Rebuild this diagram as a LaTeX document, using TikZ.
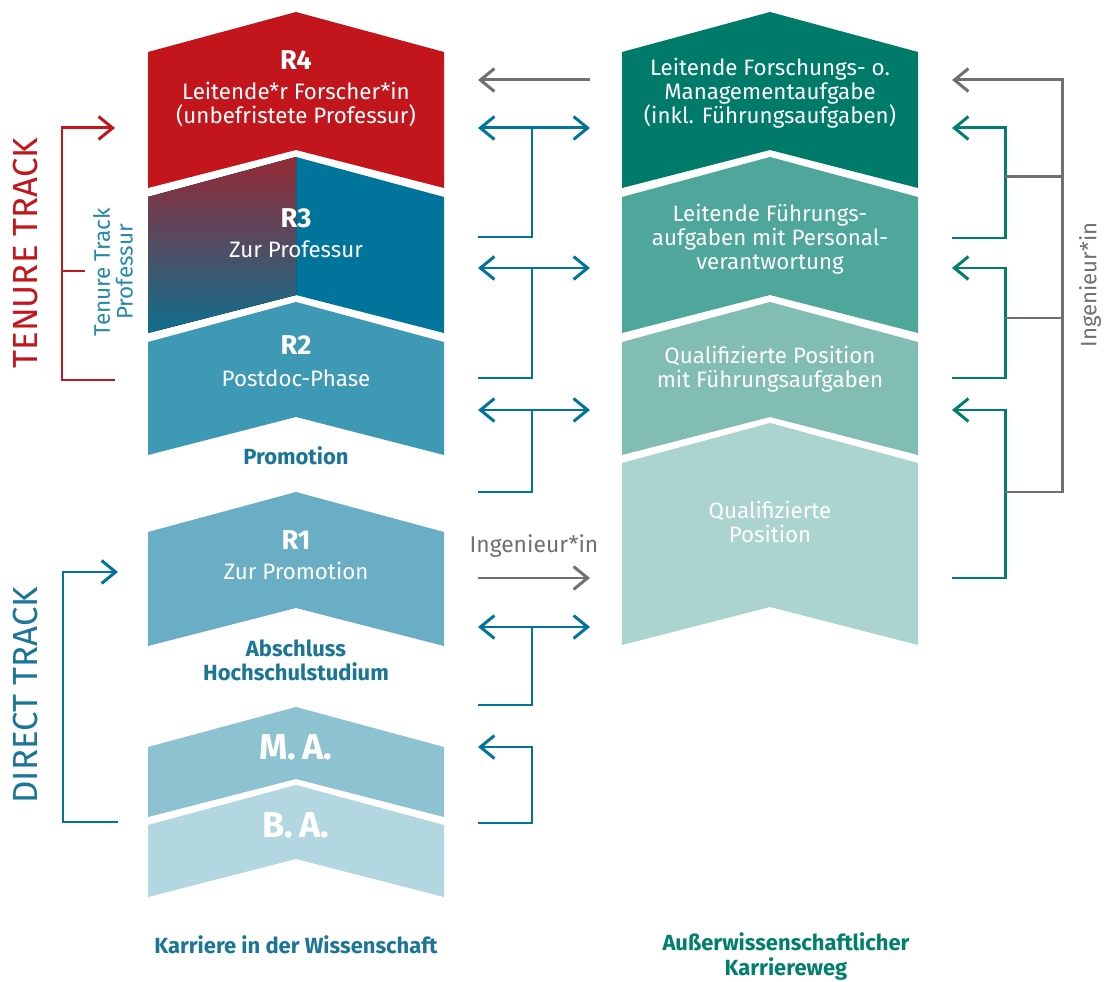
\documentclass[tikz,border=0pt]{standalone}
\usepackage{fontspec}
\setmainfont{Fira Sans}
\usetikzlibrary{arrows.meta,positioning,calc}

\definecolor{rfour}{HTML}{C3161C}
\definecolor{rthree}{HTML}{00749A}
\definecolor{rthreetop}{HTML}{952A36}
\definecolor{rthreebot}{HTML}{0E6F8E}
\definecolor{rtwo}{HTML}{3E9AB4}
\definecolor{rone}{HTML}{69AEC4}
\definecolor{master}{HTML}{8DC2D1}
\definecolor{bachelor}{HTML}{B3D7E1}
\definecolor{gone}{HTML}{007B69}
\definecolor{gtwo}{HTML}{4FA69B}
\definecolor{gthree}{HTML}{82BDB3}
\definecolor{gfour}{HTML}{ACD4CE}
\definecolor{sciteal}{HTML}{1A7596}
\definecolor{ngreen}{HTML}{007F6C}
\definecolor{conngray}{HTML}{707070}

% chevron: fill options, left x, top apex y, bottom side y
\newcommand{\chevron}[4]{%
  \fill[#1] (#2,#3+40) -- (#2+148,#3) -- (#2+296,#3+40) -- (#2+296,#4)
    -- (#2+148,#4-38) -- (#2,#4) -- cycle;}

\begin{document}
\begin{tikzpicture}[x=0.02cm, y=-0.02cm,
  rank/.style={text=white, font=\fontsize{15.5}{18}\selectfont\bfseries, anchor=base},
  chevtext/.style={text=white, font=\fontsize{12.7}{13.9}\selectfont, align=center, anchor=base},
  degree/.style={text=white, font=\fontsize{20.5}{22}\selectfont\bfseries, anchor=base},
  caption/.style={font=\fontsize{12.5}{14}\selectfont\bfseries, align=center, anchor=base},
  track/.style={rotate=90, font=\fontsize{19.8}{22}\selectfont},
  conn/.style={line width=1.7pt, >={Straight Barb[length=8pt,width=13pt]}},
  tealconn/.style={conn, draw=rthree},
  greenconn/.style={conn, draw=ngreen},
  grayconn/.style={conn, draw=conngray},
  redconn/.style={conn, draw=rfour},
]
\fill[white] (0,0) rectangle (1106,982);
\useasboundingbox (0,0) rectangle (1106,982);

% science career
\chevron{rfour}{148}{12}{188}
\chevron{rthree}{148}{157}{333}
\begin{scope}
  \clip (148,100) rectangle (296,400);
  \chevron{top color=rthreetop, bottom color=rthreebot}{148}{157}{333}
\end{scope}
\chevron{rtwo}{148}{302}{455}
\chevron{rone}{148}{492}{646}
\chevron{master}{148}{707}{817}
\chevron{bachelor}{148}{785}{897}

\node[rank] (r4) at (296,70) {R4};
\node[chevtext] (r4t) at (296,124) {Leitende*r Forscher*in\\(unbefristete Professur)};
\node[rank] (r3) at (296,228) {R3};
\node[chevtext] (r3t) at (296,258) {Zur Professur};
\node[rank] (r2) at (296,355) {R2};
\node[chevtext] (r2t) at (296,387) {Postdoc-Phase};
\node[caption, text=sciteal] (prom) at (296,465) {Promotion};
\node[rank] (r1) at (296,550) {R1};
\node[chevtext] (r1t) at (296,580) {Zur Promotion};
\node[caption, text=sciteal] (absch) at (296,681) {Abschluss\\Hochschulstudium};
\node[degree] (ma) at (296,760) {M.\,A.};
\node[degree] (ba) at (296,838) {B.\,A.};
\node[caption, text=sciteal] (sci) at (296,953) {Karriere in der Wissenschaft};

% non-science career
\chevron{gone}{622}{12}{188}
\chevron{gtwo}{622}{157}{333}
\chevron{gthree}{622}{302}{455}
\chevron{gfour}{622}{423}{645}

\node[chevtext] (g1t) at (770,124) {Leitende Forschungs- o.\\Managementaufgabe\\(inkl. Führungsaufgaben)};
\node[chevtext] (g2t) at (770,270) {Leitende Führungs-\\aufgaben mit Personal-\\verantwortung};
\node[chevtext] (g3t) at (770,388) {Qualifizierte Position\\mit Führungsaufgaben};
\node[chevtext] (g4t) at (770,543) {Qualifizierte\\Position};
\node[caption, text=ngreen] (ext) at (786,975) {Außerwissenschaftlicher\\Karriereweg};

% tracks
\node[track, text=rfour] (tenure) at (26,253) {TENURE TRACK};
\node[track, text=sciteal] (direct) at (26,695) {DIRECT TRACK};
\node[rotate=90, text=rthree!85, font=\fontsize{12.8}{13}\selectfont, align=center] (ttprof) at (113,272) {Tenure Track\\Professur};

\coordinate (tt1) at (115,128);
\coordinate (tt2) at (62,128);
\coordinate (tt3) at (115,380);
\coordinate (tt4) at (62,271);
\coordinate (tt5) at (85,271);
\draw[redconn,->] (tt3) -| (tt2) -- (tt1);
\draw[redconn] (tt4) -- (tt5);

\coordinate (dt1) at (118,572);
\coordinate (dt2) at (63,572);
\coordinate (dt3) at (118,822);
\draw[tealconn,->] (dt3) -| (dt2) -- (dt1);

% between the columns
\foreach \ya/\yb [count=\i] in {128/237, 268/378, 410/492, 627/705} {
  \coordinate (ml\i) at (478,\ya);
  \coordinate (mr\i) at (590,\ya);
  \coordinate (mj\i) at (532,\ya);
  \coordinate (mb\i) at (478,\yb);
  \draw[tealconn,<->] (ml\i) -- (mr\i);
  \draw[tealconn] (mj\i) |- (mb\i);
}
\coordinate (ml5) at (478,747);
\coordinate (mj5) at (532,823);
\coordinate (mb5) at (478,823);
\draw[tealconn,<-] (ml5) -| (mj5) -- (mb5);

\coordinate (ga1) at (590,80);
\coordinate (ga2) at (478,80);
\draw[grayconn,->] (ga1) -- (ga2);
\coordinate (ga3) at (478,578);
\coordinate (ga4) at (590,578);
\draw[grayconn,->] (ga3) -- (ga4);
\node[anchor=base, text=conngray, font=\fontsize{13}{14}\selectfont] (ing1) at (534,553) {Ingenieur*in};

% right side
\foreach \ya/\yb [count=\i] in {128/238, 268/378, 410/578} {
  \coordinate (rt\i) at (952,\ya);
  \coordinate (rj\i) at (1005,\yb);
  \coordinate (rb\i) at (952,\yb);
  \draw[greenconn,<-] (rt\i) -| (rj\i) -- (rb\i);
}
\coordinate (gr1) at (952,80);
\coordinate (gr2) at (1062,492);
\coordinate (gr3) at (1005,492);
\draw[grayconn,->] (gr3) -- (gr2) |- (gr1);
\foreach \y [count=\i] in {177, 318} {
  \coordinate (gs\i) at (1005,\y);
  \coordinate (ge\i) at (1062,\y);
  \draw[grayconn] (gs\i) -- (ge\i);
}
\node[rotate=90, text=conngray, font=\fontsize{12.6}{14}\selectfont] (ing2) at (1090,285) {Ingenieur*in};
\end{tikzpicture}
\end{document}
